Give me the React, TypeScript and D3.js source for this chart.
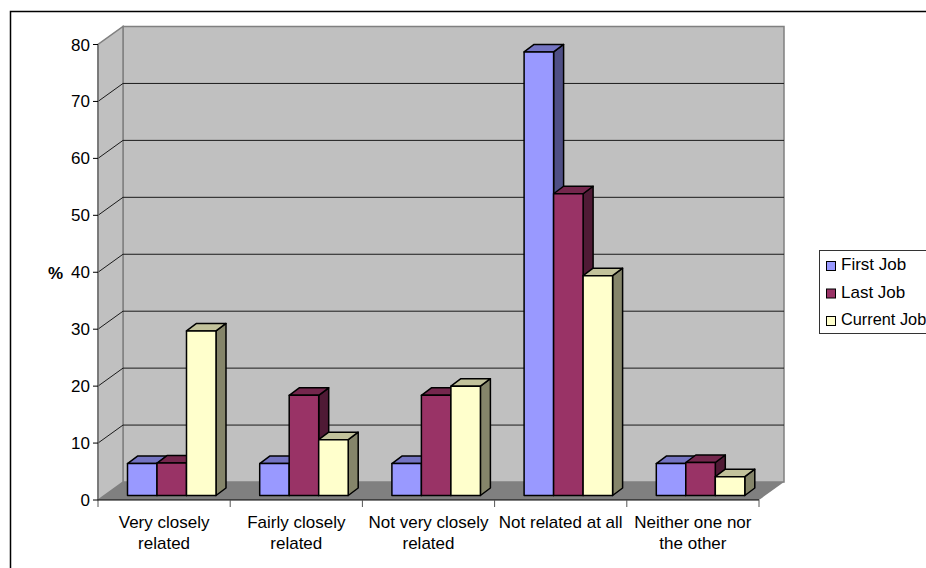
import React from "react";
import * as d3 from "d3";

const categories = [
  ["Very closely", "related"],
  ["Fairly closely", "related"],
  ["Not very closely", "related"],
  ["Not related at all"],
  ["Neither one nor", "the other"],
];
const seriesNames = ["First Job", "Last Job", "Current Job"];
const firstJob = [5.6, 5.6, 5.6, 77.9, 5.6];
const lastJob = [5.7, 17.6, 17.6, 53, 5.8];
const currentJob = [28.9, 9.8, 19.2, 38.6, 3.3];
const seriesValues = [firstJob, lastJob, currentJob];
const yTicks = [0, 10, 20, 30, 40, 50, 60, 70, 80];

const frontColors = ["#9999ff", "#993366", "#ffffcc"];
const topColors = ["#7474c2", "#74274d", "#c2c29b"];
const sideColors = ["#4f4f85", "#4f1a35", "#85856a"];

const FONT = "'Liberation Sans', Arial, sans-serif";
const FONT_SIZE = 17;

const W = 926;
const H = 568;
// Floor-plane offset between the front axes and the back wall.
const wallDx = 25;
const wallDy = -18;
// Depth of each 3D column.
const barDx = 10;
const barDy = -7.5;
const baseY = 495.5;

const x0 = d3.scaleBand<number>().domain(d3.range(5)).range([98, 759]);
const y = d3.scaleLinear().domain([0, 80]).range([500, 44.5]);
const barHeight = d3.scaleLinear().domain([0, 80]).range([0, 455.5]);
const x1 = d3.scaleBand<number>().domain(d3.range(3)).range([29.5, 118]);

function pts(p: [number, number][]) {
  return p.map((q) => q.join(",")).join(" ");
}

export default function App() {
  const left = x0.range()[0];
  const right = x0.range()[1];
  const bottom = y(0);
  const top = y(80);
  return (
    <svg
      width={W}
      height={H}
      style={{ position: "absolute", left: 0, top: 0, background: "#fff" }}
      fontFamily={FONT}
    >
      {/* Chart-area frame */}
      <path d={`M10.5 ${H}V11.5H${W}`} fill="none" stroke="#000" strokeWidth={1.5} />

      {/* Back and side walls */}
      <rect x={left + wallDx} y={top + wallDy} width={right - left} height={bottom - top} fill="#c0c0c0" stroke="#808080" strokeWidth={1.5} />
      <polygon
        points={pts([[left, bottom], [left, top], [left + wallDx, top + wallDy], [left + wallDx, bottom + wallDy]])}
        fill="#c0c0c0"
        stroke="#808080"
        strokeWidth={1.5}
      />
      {/* Floor */}
      <polygon
        points={pts([[left, bottom], [right, bottom], [right + wallDx, bottom + wallDy], [left + wallDx, bottom + wallDy]])}
        fill="#808080"
      />

      {/* Gridlines that wrap from the side wall on to the back wall */}
      {yTicks.slice(1, -1).map((t) => (
        <path
          key={t}
          d={`M${left} ${y(t)}L${left + wallDx} ${y(t) + wallDy}H${right + wallDx}`}
          fill="none"
          stroke="#1a1a1a"
          strokeWidth={1}
        />
      ))}

      {/* Columns, drawn group by group, left to right */}
      {categories.map((_, g) =>
        seriesValues.map((values, s) => {
          const bx = x0(g)! + x1(s)!;
          const bw = x1.bandwidth();
          const ty = baseY - barHeight(values[g]);
          return (
            <g key={`${g}-${s}`} stroke="#000" strokeWidth={1.5} strokeLinejoin="round">
              <polygon
                points={pts([[bx + bw, ty], [bx + bw + barDx, ty + barDy], [bx + bw + barDx, baseY + barDy], [bx + bw, baseY]])}
                fill={sideColors[s]}
              />
              <polygon
                points={pts([[bx, ty], [bx + barDx, ty + barDy], [bx + bw + barDx, ty + barDy], [bx + bw, ty]])}
                fill={topColors[s]}
              />
              <rect x={bx} y={ty} width={bw} height={baseY - ty} fill={frontColors[s]} />
            </g>
          );
        })
      )}

      {/* Value axis */}
      <line x1={left} x2={left} y1={top} y2={bottom} stroke="#707070" strokeWidth={1.5} />
      {yTicks.map((t) => (
        <g key={t}>
          <line x1={left - 5} x2={left} y1={y(t)} y2={y(t)} stroke="#000" strokeWidth={1} />
          <text x={left - 8} y={y(t) + 6} textAnchor="end" fontSize={FONT_SIZE} fill="#000">
            {t}
          </text>
        </g>
      ))}
      <text x={55.5} y={279} textAnchor="middle" fontSize={FONT_SIZE} fontWeight="bold" fill="#000">
        %
      </text>

      {/* Category axis */}
      <line x1={left} x2={right} y1={bottom} y2={bottom} stroke="#000" strokeWidth={1} />
      {d3.range(6).map((i) => {
        const tx = left + x0.step() * i;
        return <line key={i} x1={tx} x2={tx} y1={bottom} y2={bottom + 7} stroke="#555" strokeWidth={1} />;
      })}
      {categories.map((lines, g) => (
        <text key={g} textAnchor="middle" fontSize={FONT_SIZE} fill="#000">
          {lines.map((l, i) => (
            <tspan key={i} x={x0(g)! + x0.bandwidth() / 2} y={527.5 + i * 21.5}>
              {l}
            </tspan>
          ))}
        </text>
      ))}

      {/* Legend: the longest label is condensed so it stays on the canvas */}
      <rect x={819.5} y={250.5} width={110} height={83} fill="#fff" stroke="#333" strokeWidth={1} />
      {seriesNames.map((name, s) => (
        <g key={name}>
          <rect x={826.5} y={261.5 + s * 27.5} width={9} height={9} fill={frontColors[s]} stroke="#000" strokeWidth={1} />
          <text
            transform={`translate(841,${270 + s * 27.5}) scale(${s === 2 ? 0.96 : 1},1)`}
            fontSize={FONT_SIZE}
            fill="#000"
          >
            {name}
          </text>
        </g>
      ))}
    </svg>
  );
}
